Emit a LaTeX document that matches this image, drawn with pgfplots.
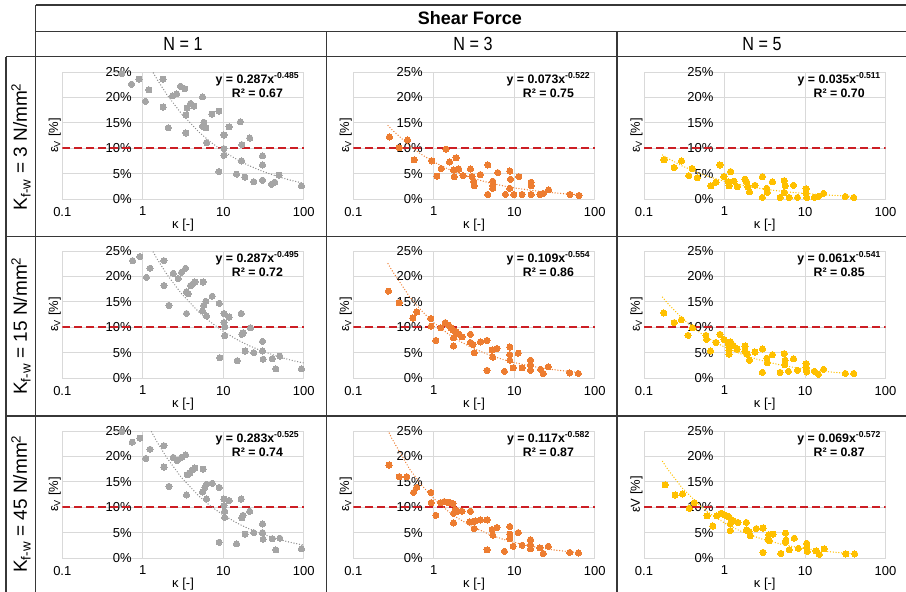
\documentclass[border=0pt]{standalone}
\usepackage{fontspec}
\setmainfont{Liberation Sans}
\newfontfamily\hdrfont[FakeStretch=0.85]{Liberation Sans}
\usepackage{pgfplots}
\pgfplotsset{compat=1.18}
\definecolor{grayS}{RGB}{165,165,165}
\definecolor{grayT}{RGB}{140,140,140}
\definecolor{orangeS}{RGB}{237,125,49}
\definecolor{goldS}{RGB}{255,192,0}
\definecolor{gridc}{RGB}{217,217,217}
\definecolor{redl}{RGB}{204,30,36}
\definecolor{tline}{RGB}{55,55,55}
\newcommand{\tkfont}{\fontsize{13}{15}\selectfont}
\tikzset{eqn/.style={align=center, font=\bfseries\fontsize{12.3}{14.7}\selectfont}}
\pgfplotsset{
  every axis/.append style={
    xmode=log, scale only axis, width=241.5pt, height=127pt,
    anchor=south west,
    xmin=0.1, xmax=100, ymin=0, ymax=25,
    xtick={0.1,1,10,100}, xticklabels={0.1,1,10,100},
    ytick={0,5,10,15,20,25}, yticklabels={0\%,5\%,10\%,15\%,20\%,25\%},
    grid=major, major grid style={draw=gridc, line width=0.9pt},
    axis line style={draw=none}, major tick length=0pt, minor tick length=0pt,
    tick style={draw=none},
    tick label style={font=\tkfont},
    yticklabel style={xshift=73pt},
    xticklabel style={yshift=-4.5pt},
    xlabel={κ [-]}, ylabel={ε\textsubscript{V} [\%]},
    every axis x label/.style={at={(rel axis cs:0.5,-0.205)}, anchor=center, font=\tkfont},
    every axis y label/.style={at={(rel axis cs:-0.031,0.5)}, rotate=90, anchor=center, font=\tkfont},
  },
  mypts/.style={only marks, mark=*, mark size=3.1pt, color=#1, mark options={fill=#1, draw=#1, line width=0pt}},
  mytrend/.style={no marks, color=#1, line width=1.4pt, line cap=round, dash pattern=on 0pt off 2.8pt},
  myref/.style={no marks, color=redl, line width=1.6pt, dash pattern=on 7.5pt off 4.5pt},
}
\begin{document}
\begin{tikzpicture}
\useasboundingbox (0,0) rectangle (906pt,-592pt);
% ---------- table frame ----------
\begin{scope}[line width=1.3pt, draw=tline]
\draw (35.7pt,-5pt) -- (906pt,-5pt);
\draw (35.7pt,-31.7pt) -- (906pt,-31.7pt);
\draw (6pt,-56.7pt) -- (906pt,-56.7pt);
\draw (6pt,-236.5pt) -- (906pt,-236.5pt);
\draw (6pt,-416pt) -- (906pt,-416pt);
\draw (35.7pt,-5pt) -- (35.7pt,-592pt);
\draw (6pt,-56.7pt) -- (6pt,-592pt);
\draw (326.5pt,-31.7pt) -- (326.5pt,-592pt);
\draw (617pt,-31.7pt) -- (617pt,-592pt);
\end{scope}
\node[font=\bfseries\fontsize{18}{20}\selectfont] at (470pt,-18.5pt) {Shear Force};
\node[font=\hdrfont\fontsize{19}{21}\selectfont] at (183pt,-44pt) {N = 1};
\node[font=\hdrfont\fontsize{19}{21}\selectfont] at (473pt,-44pt) {N = 3};
\node[font=\hdrfont\fontsize{19}{21}\selectfont] at (762pt,-44pt) {N = 5};
\node[rotate=90, font=\fontsize{19}{22}\selectfont] at (21pt,-146.6pt) {K\textsubscript{f-w} = 3 N/mm\textsuperscript{2}};
\node[rotate=90, font=\fontsize{19}{22}\selectfont] at (21pt,-326pt) {K\textsubscript{f-w} = 15 N/mm\textsuperscript{2}};
\node[rotate=90, font=\fontsize{19}{22}\selectfont] at (21pt,-504pt) {K\textsubscript{f-w} = 45 N/mm\textsuperscript{2}};

% ================= Row 1 =================
\begin{axis}[at={(62.3pt,-199pt)}]
\addplot[myref] coordinates {(0.1,10) (100,10)};
\addplot[mypts=grayS] coordinates {(0.545,24.7)(0.726,22.6)(0.895,23.6)(1.08,19.2)(1.19,21.5)(1.78,23.6)(1.79,18.1)(2.07,14.0)(2.34,20.3)(2.63,20.7)(2.94,22.2)(3.33,21.7)(3.43,16.5)(3.43,13.0)(3.56,17.9)(3.92,18.8)(4.31,18.3)(5.52,20.1)(5.52,14.3)(5.73,15.1)(6.07,14.0)(6.19,11.1)(7.21,16.7)(8.81,17.3)(8.81,5.4)(10.2,12.6)(10.2,9.9)(10.2,8.6)(11.8,14.2)(14.6,4.9)(16.3,15.2)(17.0,10.7)(16.9,7.5)(18.5,4.3)(21.3,12.0)(23.9,3.4)(30.7,8.5)(30.7,6.7)(30.7,3.7)(39.7,2.9)(43.6,3.3)(49.3,4.7)(93.5,2.6)};
\addplot[mytrend=grayT] coordinates {(1,28.7)(1.2,26.27)(1.5,23.58)(2,20.51)(3,16.85)(5,13.15)(7,11.17)(10,9.39)(15,7.72)(20,6.71)(30,5.51)(50,4.30)(70,3.66)(100,3.08)};
\node[eqn] at (rel axis cs:0.808,0.895) {y = 0.287x\textsuperscript{-0.485}\\R² = 0.67};
\end{axis}

\begin{axis}[at={(353.3pt,-199pt)}]
\addplot[myref] coordinates {(0.1,10) (100,10)};
\addplot[mypts=orangeS] coordinates {(0.281,12.2)(0.371,10.1)(0.471,11.6)(0.570,7.7)(0.947,7.5)(1.09,4.5)(1.24,6.0)(1.42,9.8)(1.57,7.3)(1.76,5.7)(1.80,4.4)(1.89,8.1)(2.04,5.9)(2.31,4.6)(2.85,5.9)(2.98,4.4)(3.13,3.5)(3.19,2.6)(3.79,4.8)(4.68,6.7)(4.68,0.9)(5.40,3.5)(5.40,2.7)(5.40,2.1)(6.23,5.2)(7.77,0.9)(8.79,5.5)(8.97,3.9)(8.79,2.1)(9.87,0.9)(11.4,4.4)(12.5,0.9)(16.2,3.3)(16.2,2.6)(16.2,0.9)(20.8,0.9)(22.9,1.1)(26.7,1.8)(49.2,0.9)(63.7,0.7)};
\addplot[mytrend=orangeS] coordinates {(0.27,14.46)(0.3,13.69)(0.5,10.48)(0.7,8.79)(1,7.30)(1.5,5.91)(2,5.08)(3,4.11)(5,3.15)(7,2.64)(10,2.19)(15,1.78)(20,1.53)(30,1.24)(50,0.95)(65,0.83)};
\node[eqn] at (rel axis cs:0.808,0.895) {y = 0.073x\textsuperscript{-0.522}\\R² = 0.75};
\end{axis}

\begin{axis}[at={(644pt,-199pt)}]
\addplot[myref] coordinates {(0.1,10) (100,10)};
\addplot[mypts=goldS] coordinates {(0.177,7.7)(0.237,6.2)(0.292,7.5)(0.360,4.6)(0.396,6.0)(0.458,4.2)(0.678,2.6)(0.782,3.3)(0.877,6.7)(0.984,4.4)(1.11,3.4)(1.14,2.6)(1.19,5.4)(1.31,3.5)(1.44,2.4)(1.80,3.9)(1.89,3.3)(1.94,2.4)(2.04,1.4)(2.39,2.7)(2.96,4.4)(2.96,0.3)(3.35,2.1)(3.41,1.3)(3.94,3.4)(4.91,0.3)(5.51,3.6)(5.67,2.6)(5.51,1.3)(6.35,0.3)(7.19,2.7)(8.07,0.3)(10.3,2.0)(10.3,1.1)(10.5,0.3)(13.1,0.3)(14.7,0.5)(17.0,1.1)(31.7,0.5)(40.3,0.3)};
\addplot[mytrend=goldS] coordinates {(0.17,8.66)(0.2,7.97)(0.3,6.48)(0.5,4.99)(0.7,4.20)(1,3.50)(1.5,2.85)(2,2.46)(3,2.00)(5,1.54)(7,1.30)(10,1.08)(15,0.88)(20,0.76)(30,0.62)(42,0.52)};
\node[eqn] at (rel axis cs:0.808,0.895) {y = 0.035x\textsuperscript{-0.511}\\R² = 0.70};
\end{axis}

% ================= Row 2 =================
\begin{axis}[at={(62.3pt,-378pt)}]
\addplot[myref] coordinates {(0.1,10) (100,10)};
\addplot[mypts=grayS] coordinates {(0.746,23.1)(0.920,23.9)(1.11,19.8)(1.23,21.6)(1.83,23.1)(1.83,18.2)(2.11,14.3)(2.39,20.6)(2.75,19.6)(3.03,20.8)(3.40,21.6)(3.49,12.7)(3.49,17.0)(3.66,16.6)(3.92,18.2)(4.23,18.6)(4.44,18.9)(5.52,13.2)(5.62,18.9)(5.73,14.3)(6.07,15.1)(6.19,12.2)(7.28,16.1)(8.89,14.7)(9.06,4.0)(10.2,12.7)(10.2,10.9)(10.4,10.1)(10.4,8.3)(11.8,12.0)(14.9,3.4)(16.7,12.7)(17.0,8.6)(17.6,8.9)(18.7,5.3)(21.8,9.9)(23.9,5.0)(30.7,7.2)(30.7,5.3)(31.3,3.7)(40.5,3.8)(44.9,1.8)(50.3,4.3)(93.5,1.8)};
\addplot[mytrend=grayT] coordinates {(1,28.7)(1.2,26.22)(1.5,23.48)(2,20.37)(3,16.66)(5,12.94)(7,10.96)(10,9.18)(15,7.51)(20,6.51)(30,5.33)(50,4.14)(70,3.50)(100,2.94)};
\node[eqn] at (rel axis cs:0.808,0.895) {y = 0.287x\textsuperscript{-0.495}\\R² = 0.72};
\end{axis}

\begin{axis}[at={(353.3pt,-378pt)}]
\addplot[myref] coordinates {(0.1,10) (100,10)};
\addplot[mypts=orangeS] coordinates {(0.273,17.1)(0.371,14.8)(0.549,11.8)(0.615,13.0)(0.920,11.7)(0.929,10.2)(1.06,7.4)(1.22,9.9)(1.39,10.9)(1.53,10.4)(1.63,9.9)(1.73,9.4)(1.76,7.9)(1.76,6.3)(1.89,9.1)(2.07,8.6)(2.24,8.1)(2.85,8.6)(2.85,7.0)(3.07,6.6)(3.19,5.0)(3.79,7.1)(4.59,7.4)(4.59,1.5)(5.30,5.5)(5.40,4.1)(6.11,5.8)(7.55,1.3)(8.79,6.1)(8.79,4.6)(8.79,3.5)(9.68,2.0)(11.2,4.9)(12.5,2.0)(15.9,3.5)(15.9,2.6)(15.9,1.5)(21.2,1.7)(22.9,0.9)(26.4,2.2)(48.8,1.0)(62.5,0.9)};
\addplot[mytrend=orangeS] coordinates {(0.27,22.51)(0.3,21.24)(0.5,16.00)(0.7,13.28)(1,10.90)(1.5,8.71)(2,7.42)(3,5.93)(5,4.47)(7,3.71)(10,3.04)(15,2.43)(20,2.07)(30,1.66)(50,1.25)(65,1.08)};
\node[eqn] at (rel axis cs:0.808,0.895) {y = 0.109x\textsuperscript{-0.554}\\R² = 0.86};
\end{axis}

\begin{axis}[at={(644pt,-378pt)}]
\addplot[myref] coordinates {(0.1,10) (100,10)};
\addplot[mypts=goldS] coordinates {(0.176,12.8)(0.237,10.9)(0.292,11.5)(0.353,8.4)(0.400,9.9)(0.587,8.4)(0.598,7.6)(0.671,5.3)(0.782,7.0)(0.877,8.6)(0.984,7.6)(1.11,6.8)(1.14,5.5)(1.14,4.7)(1.19,7.1)(1.29,6.4)(1.44,5.7)(1.80,6.3)(1.80,5.3)(1.92,4.7)(2.04,3.5)(2.39,5.1)(2.96,5.7)(2.96,1.1)(3.35,3.9)(3.41,3.0)(3.94,4.6)(4.91,1.1)(5.51,4.8)(5.67,3.5)(5.6,2.6)(6.23,1.3)(7.19,3.8)(8.07,1.5)(10.3,2.8)(10.3,2.0)(10.5,1.2)(13.1,1.3)(14.7,0.7)(17.0,1.7)(31.7,0.9)(40.3,0.9)};
\addplot[mytrend=goldS] coordinates {(0.17,15.91)(0.2,14.57)(0.3,11.70)(0.5,8.88)(0.7,7.40)(1,6.10)(1.5,4.90)(2,4.19)(3,3.37)(5,2.55)(7,2.13)(10,1.76)(15,1.41)(20,1.21)(30,0.97)(42,0.81)};
\node[eqn] at (rel axis cs:0.808,0.895) {y = 0.061x\textsuperscript{-0.541}\\R² = 0.85};
\end{axis}

% ================= Row 3 =================
\begin{axis}[at={(62.3pt,-558pt)}]
\addplot[myref] coordinates {(0.1,10) (100,10)};
\addplot[mypts=grayS] coordinates {(0.545,24.9)(0.740,22.8)(0.920,23.6)(1.09,19.6)(1.23,21.4)(1.83,22.1)(1.83,17.9)(2.11,14.1)(2.39,19.8)(2.68,19.2)(3.03,19.8)(3.40,20.3)(3.49,12.4)(3.56,16.4)(3.84,16.7)(4.11,17.3)(4.43,17.7)(5.52,13.0)(5.62,17.5)(5.90,13.9)(6.19,14.5)(6.19,11.6)(7.28,14.7)(8.89,13.9)(8.89,3.1)(10.2,11.6)(10.2,10.3)(10.4,9.2)(10.4,8.0)(11.8,11.3)(14.6,2.8)(16.7,11.6)(17.0,7.9)(17.6,8.4)(18.7,4.7)(21.3,9.2)(23.9,5.0)(30.7,6.7)(30.7,5.0)(31.3,3.7)(40.5,3.8)(44.9,1.6)(50.3,3.9)(93.5,1.8)};
\addplot[mytrend=grayT] coordinates {(1,28.3)(1.2,25.72)(1.5,22.87)(2,19.67)(3,15.90)(5,12.16)(7,10.19)(10,8.45)(15,6.83)(20,5.87)(30,4.75)(50,3.63)(70,3.04)(100,2.52)};
\node[eqn] at (rel axis cs:0.808,0.895) {y = 0.283x\textsuperscript{-0.525}\\R² = 0.74};
\end{axis}

\begin{axis}[at={(353.3pt,-558pt)}]
\addplot[myref] coordinates {(0.1,10) (100,10)};
\addplot[mypts=orangeS] coordinates {(0.278,18.3)(0.371,16.0)(0.462,16.0)(0.560,12.9)(0.615,13.9)(0.920,12.9)(0.929,10.9)(1.06,8.4)(1.22,10.9)(1.35,11.1)(1.46,11.0)(1.60,10.9)(1.73,10.7)(1.76,8.8)(1.76,6.9)(1.85,9.5)(1.98,9.2)(2.24,9.2)(2.85,9.2)(2.79,7.1)(3.07,7.2)(3.19,5.8)(3.29,7.3)(3.79,7.5)(4.59,7.5)(4.59,1.6)(5.30,5.6)(5.40,4.5)(6.11,6.0)(7.55,1.3)(8.79,6.2)(8.79,4.7)(8.79,3.8)(9.68,2.3)(11.2,5.0)(12.5,2.5)(15.9,3.6)(15.9,2.6)(15.9,1.8)(20.8,2.0)(22.9,0.9)(26.4,2.3)(48.8,1.1)(62.5,1.0)};
\addplot[mytrend=orangeS] coordinates {(0.27,25.07)(0.3,23.58)(0.5,17.51)(0.7,14.40)(1,11.70)(1.5,9.24)(2,7.82)(3,6.17)(5,4.59)(7,3.77)(10,3.06)(15,2.42)(20,2.05)(30,1.62)(50,1.20)(65,1.03)};
\node[eqn] at (rel axis cs:0.808,0.895) {y = 0.117x\textsuperscript{-0.582}\\R² = 0.87};
\end{axis}

\begin{axis}[at={(644pt,-558pt)}, ylabel={εV [\%]}]
\addplot[myref] coordinates {(0.1,10) (100,10)};
\addplot[mypts=goldS] coordinates {(0.183,14.4)(0.244,12.4)(0.301,12.6)(0.365,9.8)(0.422,10.9)(0.607,8.3)(0.715,6.3)(0.802,8.3)(0.908,8.8)(1.0,8.5)(1.07,8.3)(1.15,8.0)(1.18,6.7)(1.18,5.4)(1.30,7.3)(1.47,7.0)(1.87,7.0)(1.87,5.5)(2.01,5.2)(2.09,4.4)(2.49,5.8)(3.01,5.9)(3.01,1.1)(3.48,3.7)(3.55,4.6)(3.58,3.4)(4.02,4.7)(5.01,0.9)(5.73,4.9)(5.79,3.5)(5.73,3.1)(6.37,1.6)(7.36,3.9)(8.26,1.9)(10.5,2.9)(10.5,2.1)(10.7,1.3)(13.7,1.4)(15.1,0.7)(17.3,1.8)(32.2,0.8)(41.4,0.8)};
\addplot[mytrend=goldS] coordinates {(0.17,19.01)(0.2,17.32)(0.3,13.74)(0.5,10.26)(0.7,8.46)(1,6.90)(1.5,5.47)(2,4.64)(3,3.68)(5,2.75)(7,2.27)(10,1.85)(15,1.47)(20,1.24)(30,0.99)(42,0.81)};
\node[eqn] at (rel axis cs:0.808,0.895) {y = 0.069x\textsuperscript{-0.572}\\R² = 0.87};
\end{axis}
\end{tikzpicture}
\end{document}
